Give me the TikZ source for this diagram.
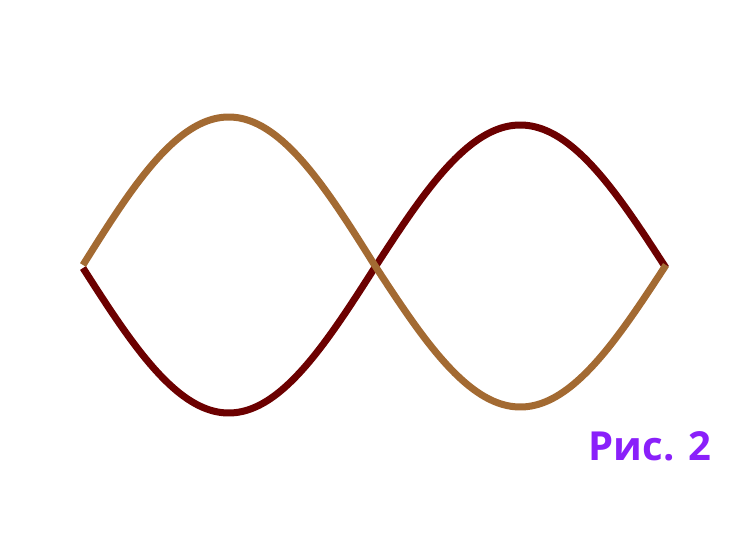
\documentclass[tikz,border=0pt]{standalone}
\usepackage{fontspec}
\newfontfamily\labelfont{Open Sans}
\definecolor{tanline}{RGB}{163,106,50}
\definecolor{darkline}{RGB}{108,0,0}
\definecolor{labelviolet}{RGB}{138,32,250}
\tikzset{wave/.style={line width=7pt, line join=round}}
\begin{document}
\begin{tikzpicture}[x=1pt,y=-1pt]
\useasboundingbox (0,0) rectangle (752,533);
\draw[wave, darkline] plot[domain=83:666, samples=200, smooth] (\x, {268 + 145*max(sin((\x-83)/291.5*180),0) + 143*min(sin((\x-83)/291.5*180),0)});
\draw[wave, tanline] plot[domain=83:666, samples=200, smooth] (\x, {265 - 148*max(sin((\x-83)/291.5*180),0) - 142*min(sin((\x-83)/291.5*180),0)});
\node[text=labelviolet, font=\labelfont\bfseries\fontsize{40}{46}\selectfont, inner sep=0pt] (caption) at (650,446) {Рис. 2};
\end{tikzpicture}
\end{document}
